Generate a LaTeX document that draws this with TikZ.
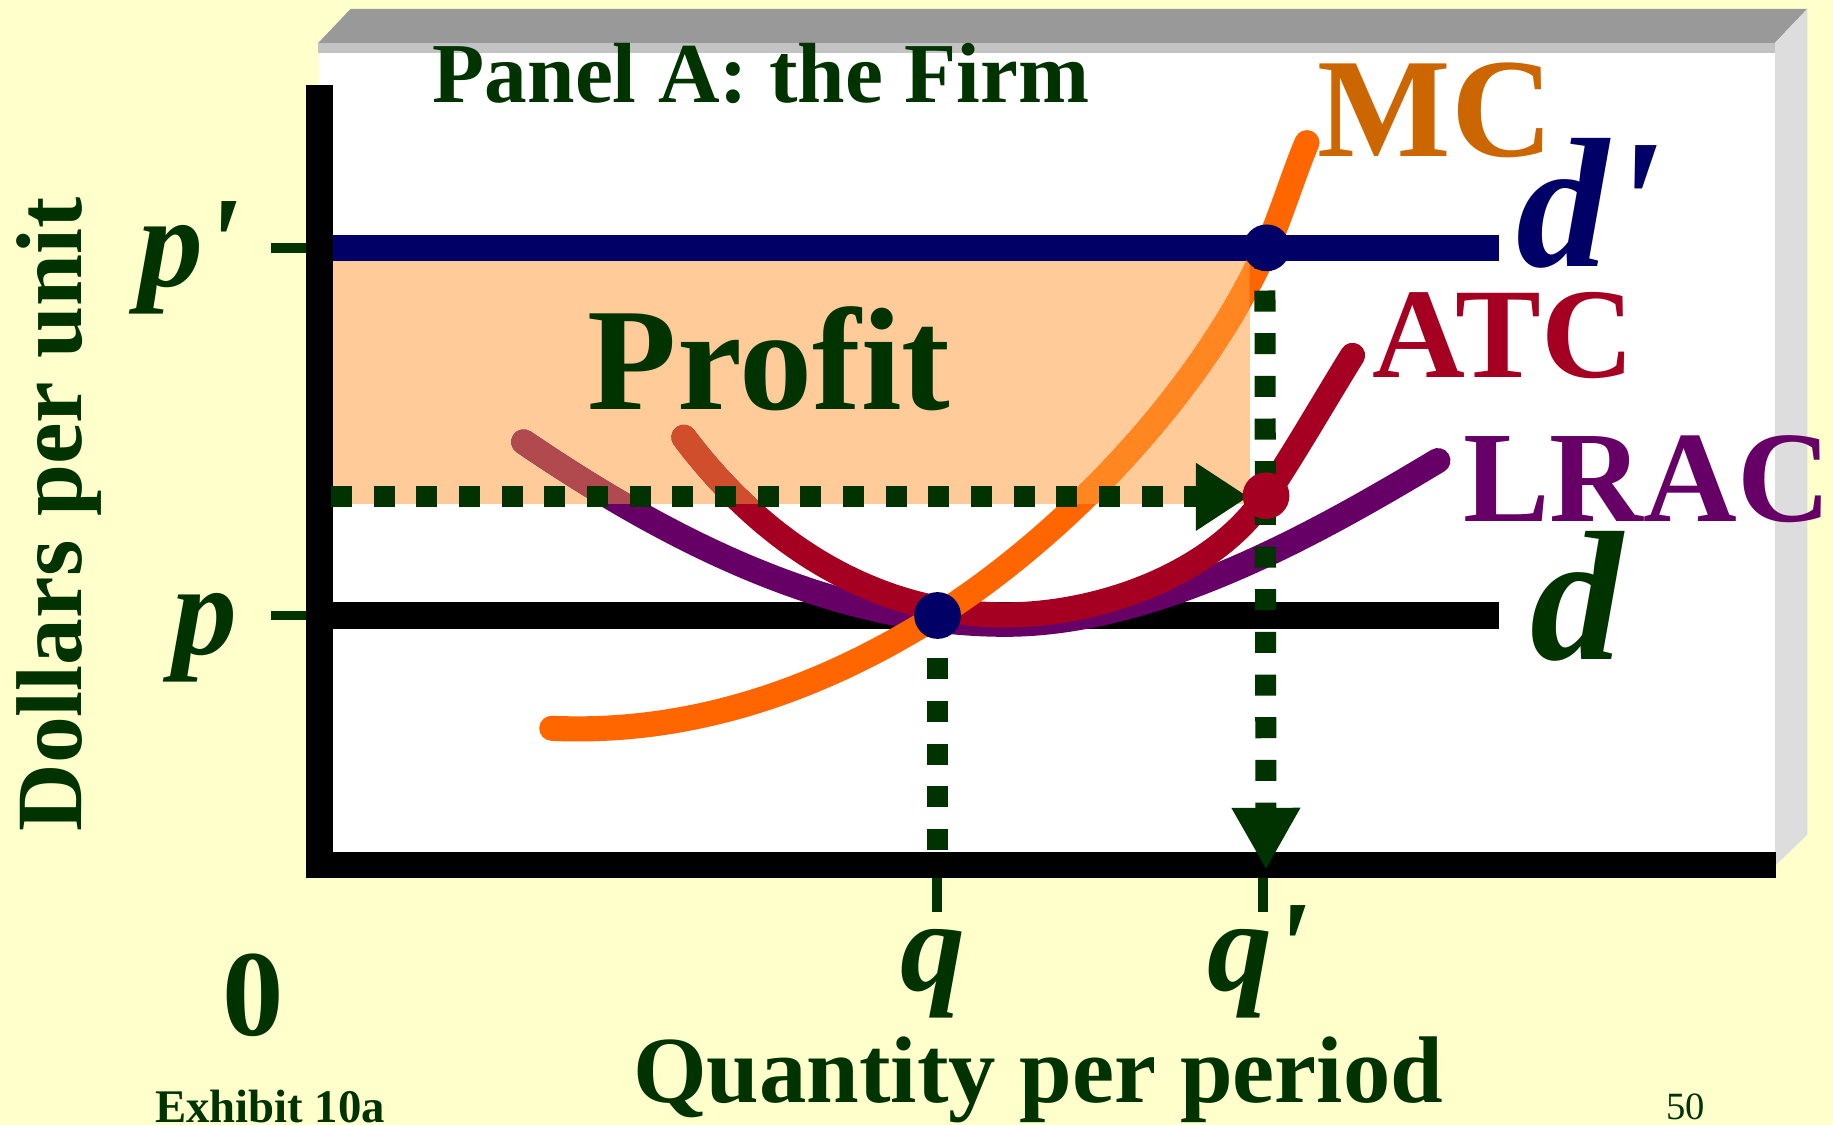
\documentclass[tikz,border=0pt]{standalone}
\usepackage{fontspec}
\setmainfont{Liberation Serif}[Ligatures=TeXOff]
\usetikzlibrary{arrows.meta}
\definecolor{bgy}{HTML}{FFFFCC}
\definecolor{dgreen}{HTML}{003300}
\definecolor{navy}{HTML}{000066}
\definecolor{peach}{HTML}{FFCC99}
\definecolor{mcc}{HTML}{FF6600}
\definecolor{mct}{HTML}{FF8620}
\definecolor{atcc}{HTML}{A50021}
\definecolor{atct}{HTML}{D04E2B}
\definecolor{lracc}{HTML}{660066}
\definecolor{lract}{HTML}{B04A4E}
\definecolor{mclbl}{HTML}{CC6600}
\definecolor{topgray}{HTML}{999999}
\definecolor{stripgray}{HTML}{C3C3C3}
\definecolor{sidegray}{HTML}{DDDDDD}
\newcommand\fs[1]{\fontsize{#1}{#1}\selectfont}
\tikzset{
  lbl/.style={inner sep=0pt, outer sep=0pt, anchor=base, text=dgreen},
  curve/.style={line width=21.5pt, line cap=round},
  hline/.style={line width=22.5pt},
  axisline/.style={line width=23pt, black},
  dots/.style={dgreen, line width=18pt, dash pattern=on 18pt off 18.5pt},
  tick/.style={dgreen, line width=8.5pt},
  mcP/.style={insert path={(472,623) .. controls (582,628) and (692,596) .. (802,526.5)
      .. controls (902,463.5) and (1023.5,344) .. (1083.5,212)
      .. controls (1095.5,185.6) and (1108,145) .. (1118,122)}},
  atcP/.style={insert path={(585,374) .. controls (655,467) and (750,526) .. (860,526)
      .. controls (940,526) and (1038,491.5) .. (1083,424)
      .. controls (1108,386.5) and (1137,336) .. (1157,304)}},
  lracP/.style={insert path={(448,378) .. controls (568,459.6) and (710,534) .. (860,534)
      .. controls (990,534) and (1130,454) .. (1230,394)}}
}
\begin{document}
\begin{tikzpicture}[x=1pt,y=-1pt]
\useasboundingbox (0,0) rectangle (1568,962);
\fill[bgy] (0,0) rectangle (1568,962);
% frame
\fill[topgray] (272,37) -- (300,7.5) -- (1546,7.5) -- (1518,37) -- cycle;
\fill[sidegray] (1518,37) -- (1546,7.5) -- (1546,714) -- (1518,741) -- cycle;
\fill[white] (273,45) rectangle (1518,740);
\fill[stripgray] (272,37) rectangle (1518,45);
% profit rectangle
\fill[peach] (285,223) rectangle (1069,431);
% coordinates
\coordinate (dpL) at (285,212);
\coordinate (dpR) at (1282,212);
\coordinate (pL) at (285,526.5);
\coordinate (pR) at (1282,526.5);
\coordinate (E1) at (802,526.5);
\coordinate (E2) at (1083.5,212);
\coordinate (E3) at (1083,424);
\coordinate (hS) at (283,425);
\coordinate (hT) at (1068,425);
\coordinate (qB) at (802,729);
\coordinate (qpS) at (1082,212);
\coordinate (qpT) at (1083,744);
% demand lines
\draw[hline, navy] (dpL) -- (dpR);
\draw[hline, black] (pL) -- (pR);
% curves
\draw[curve, lracc, lracP];
\draw[curve, atcc, atcP];
\draw[curve, mcc, mcP];
\begin{scope}
  \clip (285,223) rectangle (1069,431);
  \draw[curve, lract, lracP];
  \draw[curve, atct, atcP];
  \draw[curve, mct, mcP];
\end{scope}
% axes
\draw[axisline] (273,73) -- (273,751);
\draw[axisline, line width=22pt] (262,740) -- (1519,740);
% profit label
\node[lbl, font=\fs{125}\bfseries] (profit) at (658,350) {Profit};
% dotted guides
\draw[dots, -{Triangle[length=45pt,width=55pt]}] (hS) -- (hT);
\draw[dots] (E1) -- (qB);
\draw[dots, -{Triangle[length=53pt,width=55pt]}] (qpS) -- (qpT);
% ticks
\draw[tick] (232,212) -- (262,212);
\draw[tick] (232,526.5) -- (262,526.5);
\draw[tick, line width=9pt] (801.5,751) -- (801.5,780);
\draw[tick, line width=9pt] (1080.5,751) -- (1080.5,780);
% equilibrium dots
\fill[navy] (E1) circle[radius=20pt];
\fill[navy] (E2) circle[radius=20pt];
\fill[atcc] (E3) circle[radius=20pt];
% labels
\node[lbl, font=\fs{73}\bfseries] (title) at (651,88) {Panel A: the Firm};
\node[lbl, text=mclbl, font=\fs{121}\bfseries] (mclab) at (1228,134) {MC};
\node[lbl, text=navy, font=\fs{158}\bfseries\itshape] (dplab) at (1359,228) {d'};
\node[lbl, text=atcc, font=\fs{110}\bfseries] (atclab) at (1286,323) {ATC};
\node[lbl, text=lracc, font=\fs{111}\bfseries] (lraclab) at (1409,446) {LRAC};
\node[lbl, font=\fs{158}\bfseries\itshape] (dlab) at (1349,564) {d};
\node[lbl, font=\fs{111}\bfseries\itshape] (pplab) at (162,245) {p'};
\node[lbl, font=\fs{111}\bfseries\itshape] (plab) at (175,560) {p};
\node[lbl, font=\fs{111}\bfseries\itshape] (qlab) at (798,847) {q};
\node[lbl, font=\fs{111}\bfseries\itshape] (qplab) at (1076,847) {q'};
\node[lbl, font=\fs{105}\bfseries] (zero) at (216.5,886) {0};
\node[lbl, font=\fs{81}\bfseries] (xlab) at (888,943) {Quantity per period};
\node[lbl, font=\fs{80}\bfseries, rotate=90] (ylab) at (70,440) {Dollars per unit};
\node[lbl, font=\fs{40}\bfseries] (exh) at (231,960) {Exhibit 10a};
\node[lbl, font=\fs{33}] (pg) at (1442,958) {50};
\end{tikzpicture}
\end{document}
